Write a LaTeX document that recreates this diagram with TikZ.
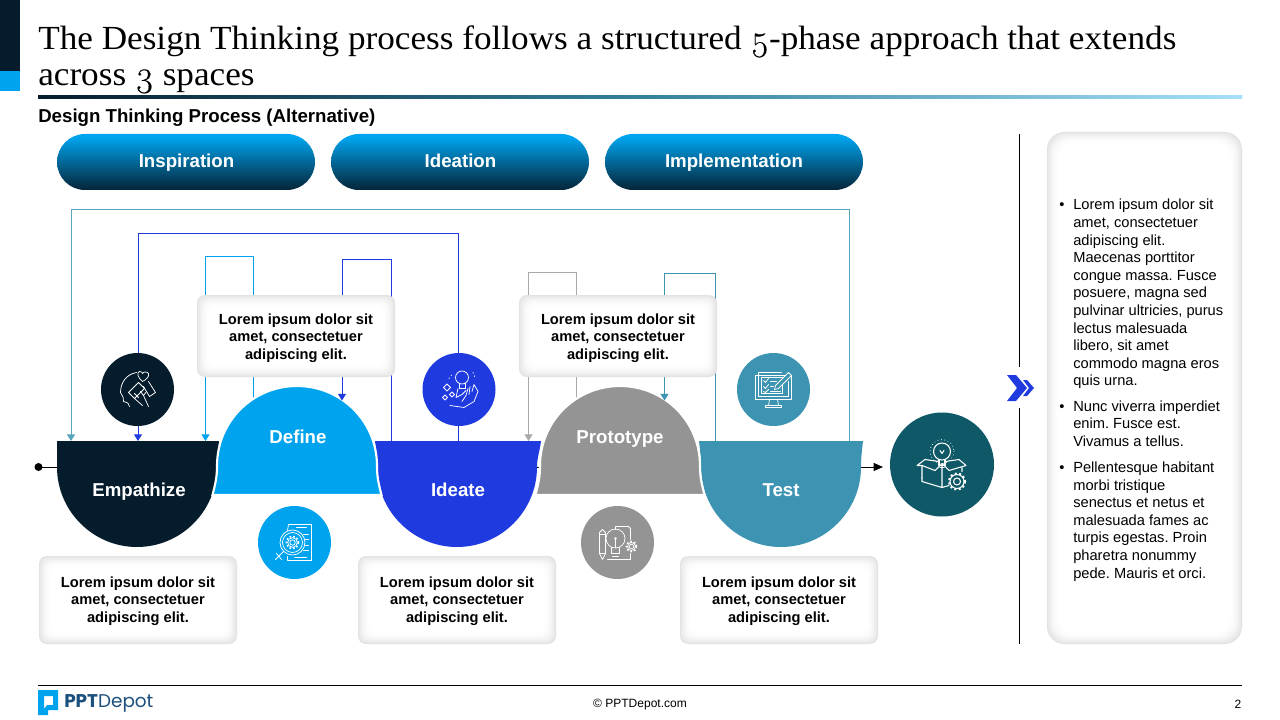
\documentclass[tikz,border=0pt]{standalone}
\usepackage{fontspec}
\setmainfont{Liberation Sans}
\newfontfamily\titlefont[FakeStretch=1.043]{Liberation Serif}
\newfontfamily\oldnum[Numbers=OldStyle,Scale=1.06,FakeBold=.25]{Latin Modern Roman}
\newfontfamily\logofont{Poppins}
\usetikzlibrary{arrows.meta,shapes.geometric}
\definecolor{cdark}{HTML}{051C2C}
\definecolor{csky}{HTML}{00A4EE}
\definecolor{cblue}{HTML}{1F3BE0}
\definecolor{cgray}{HTML}{949494}
\definecolor{cteal}{HTML}{3C93B2}
\definecolor{cdeep}{HTML}{0E5868}
\definecolor{clogo}{HTML}{1B4F7E}
\pgfdeclareverticalshading{pillshade}{100bp}{
  color(0bp)=(cdark); color(22bp)=(cdark); color(50bp)=(csky!55!cdark); color(72bp)=(csky); color(100bp)=(csky)}
\pgfdeclarehorizontalshading{ruleshade}{100bp}{
  color(0bp)=(cdark); color(25bp)=(cdark); color(50bp)=(cteal!85!cdark); color(75bp)=(csky!35!white); color(100bp)=(csky!22!white)}
\tikzset{
  pill/.style={rounded corners=21pt,shading=pillshade},
  pilltext/.style={text=white,font=\fontsize{14}{16}\selectfont\bfseries,inner sep=0pt,anchor=base},
  shapetext/.style={text=white,font=\fontsize{14}{16}\selectfont\bfseries,inner sep=0pt,anchor=base},
  lorem/.style={align=center,inner sep=0pt,font=\fontsize{11}{13.1}\selectfont\bfseries},
  side/.style={align=left,anchor=north west,inner sep=0pt,font=\fontsize{11}{13.2}\selectfont\frenchspacing},
  bullet/.style={anchor=base west,inner sep=0pt,font=\fontsize{11}{13.2}\selectfont},
  link/.style={line width=.75pt},
  tip/.style={-{Triangle[width=6pt,length=5pt]}},
  icon/.style={draw=white,line width=.55pt,line join=round,line cap=round},
  dome/.style={draw=white,line width=1.6pt},
}
\newcommand\softbox[5][6pt]{%
  \foreach \i in {0,...,12}{%
    \pgfmathsetmacro\cc{11*(1-\i/12)*(1-\i/12)}
    \fill[black!\cc!white,rounded corners=#1] (#2+\i,#3+\i) rectangle (#4-\i,#5-\i);
  }}
\newcommand\bowl[3]{%
  \fill[#2] (#1-82,441) -- (#1+#3,441) .. controls (#1+#3-1,450) and (#1+80,458) .. (#1+80,467)
    .. controls (#1+80,511) and (#1+44,547) .. (#1,547)
    .. controls (#1-44,547) and (#1-80,511) .. (#1-80,467)
    .. controls (#1-80,458) and (#1-81,450) .. cycle;}
\newcommand\domeshape[2]{%
  \fill[#2,dome] (#1-84.5,495) .. controls (#1-82,485) and (#1-80,478) .. (#1-80,466)
    .. controls (#1-80,421) and (#1-44,386) .. (#1,386)
    .. controls (#1+44,386) and (#1+80,421) .. (#1+80,466)
    .. controls (#1+80,478) and (#1+82,485) .. (#1+84.5,495) -- cycle;}
\newcommand\gearicon[3]{%
  \draw[icon] (#1,#2) circle (#3*.45);
  \draw[icon] (#1,#2) circle (#3*.8);
  \draw[draw=white,line width=1.3pt,dash pattern=on 1.2pt off 1.5pt] (#1,#2) circle (#3);}
\begin{document}
\begin{tikzpicture}[x=.75pt,y=-.75pt]
\useasboundingbox (0,0) rectangle (1280,720);
\fill[white] (0,0) rectangle (1280,720);
% header
\fill[cdark] (0,0) rectangle (20,71);
\fill[csky] (0,71) rectangle (20,91);
\node[anchor=base west,inner sep=0pt,font=\titlefont\fontsize{25.3}{27}\selectfont] (title) at (38,50)
 {The Design Thinking process follows a structured {\oldnum 5}-phase approach that extends};
\node[anchor=base west,inner sep=0pt,font=\titlefont\fontsize{25.3}{27}\selectfont] (title2) at (38,86) {across {\oldnum 3} spaces};
\shade[shading=ruleshade] (38,95.5) rectangle (1242,99);
\node[anchor=base west,inner sep=0pt,font=\fontsize{14}{16}\selectfont\bfseries] (sub) at (38,123) {Design Thinking Process (Alternative)};
% pills
\shade[pill] (57,134) rectangle (315,190);
\shade[pill] (331,134) rectangle (589,190);
\shade[pill] (605,134) rectangle (863,190);
\node[pilltext] (p1) at (186.5,168) {Inspiration};
\node[pilltext] (p2) at (460.5,168) {Ideation};
\node[pilltext] (p3) at (734,168) {Implementation};
% coordinates
\coordinate (start) at (38.5,467);
\coordinate (end) at (883,467);
\foreach \n/\x/\y in {a1/849/441,a2/849/209.5,a3/71/209.5,a4/71/441,
  b1/458/441,b2/458/233.5,b3/138/233.5,b4/138/441,
  c1/253.5/420,c2/253.5/256.5,c3/205.5/256.5,c4/205.5/441,
  d1/391/441,d2/391/259,d3/342/259,d4/342/400.5,
  e1/576/420,e2/576/272,e3/528.5/272,e4/528.5/441,
  f1/715.5/441,f2/715.5/273,f3/664.5/273,f4/664.5/400.5}{\coordinate (\n) at (\x,\y);}
% main line
\draw[line width=.75pt,-{Triangle[width=6pt,length=7pt]}] (start) -- (end);
\fill[black] (start) circle (4);
% connectors
\draw[link,cteal!85!white,tip] (a1) -- (a2) -- (a3) -- (a4);
\draw[link,cblue,tip] (b1) -- (b2) -- (b3) -- (b4);
\draw[link,csky,tip] (c1) -- (c2) -- (c3) -- (c4);
\draw[link,cgray!80!white,tip] (e1) -- (e2) -- (e3) -- (e4);
% bowls
\fill[cdark] (57,441) -- (219,441) .. controls (218,450) and (217,458) .. (217,467)
    .. controls (217,511) and (181,547) .. (137,547)
    .. controls (93,547) and (57,511) .. (57,467) -- cycle;
\bowl{457}{cblue}{84}
\bowl{781}{cteal}{82}
% domes
\domeshape{297}{csky}
\domeshape{620}{cgray}
\draw[link,cblue,tip] (d1) -- (d2) -- (d3) -- (d4);
\draw[link,cteal,tip] (f1) -- (f2) -- (f3) -- (f4);
\node[shapetext] (n1) at (139,496) {Empathize};
\node[shapetext] (n2) at (298,443) {Define};
\node[shapetext] (n3) at (458,496) {Ideate};
\node[shapetext] (n4) at (620,443) {Prototype};
\node[shapetext] (n5) at (781,496) {Test};
% text boxes
\softbox{197}{295}{395}{377}
\softbox{519}{295}{717}{377}
\softbox{39}{556}{237}{644}
\softbox{358}{556}{556}{644}
\softbox{680}{556}{878}{644}
\node[lorem] (t1) at (296,338) {Lorem ipsum dolor sit\\amet, consectetuer\\adipiscing elit.};
\node[lorem] (t2) at (618,338) {Lorem ipsum dolor sit\\amet, consectetuer\\adipiscing elit.};
\node[lorem] (t3) at (138,601) {Lorem ipsum dolor sit\\amet, consectetuer\\adipiscing elit.};
\node[lorem] (t4) at (457,601) {Lorem ipsum dolor sit\\amet, consectetuer\\adipiscing elit.};
\node[lorem] (t5) at (779,601) {Lorem ipsum dolor sit\\amet, consectetuer\\adipiscing elit.};
% circles
\fill[cdark] (137.5,389.5) circle (36.5);
\fill[cblue] (459,389.5) circle (36.5);
\fill[cteal] (773.5,389.5) circle (36.5);
\fill[csky] (294.5,542.5) circle (36.5);
\fill[cgray] (617.5,542.5) circle (36.5);
\fill[cdeep] (942,464.5) circle (52);
% icon 1: head, heart, handshake
\begin{scope}[shift={(137.5,389.5)}]
 \draw[icon] (-8,17) .. controls (-8,14) and (-10,13) .. (-14,12) .. controls (-13,9) and (-15,7) .. (-17,3)
   .. controls (-17,-6) and (-12,-15) .. (-1,-17);
 \draw[icon] (5,-8) .. controls (0,-12) and (-1,-17) .. (2,-18) .. controls (4,-18) and (5,-17) .. (5,-16)
   .. controls (6,-18) and (10,-18) .. (11,-16) .. controls (12,-13) and (9,-10) .. (5,-8) -- cycle;
 \draw[icon] (-9,3) -- (1,-7) -- (7,-1) -- (-3,9) -- cycle;
 \draw[icon] (11,-8) -- (18,3) -- (12,7) -- (6,-3);
 \draw[icon] (-3,9) -- (5,16) (3,2) -- (6,6) -- (9,2) (6,6) -- (11,17) (-3,4) -- (1,8);
\end{scope}
% icon 2: bulb in hand
\begin{scope}[shift={(459,389.5)}]
 \draw[icon] (3,-12) circle (6.5);
 \draw[icon] (0,-6) -- (0,-1) -- (6,-1) -- (6,-6);
 \draw[icon] (-1,-1) -- (-3,8) -- (3,5) -- (7,1);
 \draw[icon] (-9,16) -- (5,18) -- (15,12) -- (19,2) -- (15,-5) -- (13,2);
 \draw[icon] (11,-3) -- (10,5) (9,-1) -- (7,6) -- (3,12);
 \foreach \px/\py/\pr in {-12/-2/3.5,-7/5/2.5,-14/8/2.5}{
   \draw[icon] (\px-\pr,\py) -- (\px,\py-\pr) -- (\px+\pr,\py) -- (\px,\py+\pr) -- cycle;}
 \draw[icon,dash pattern=on .6pt off 2pt] (-10,-11) -- (-7,-15) (14,-17) -- (16,-12);
\end{scope}
% icon 3: monitor
\begin{scope}[shift={(773.5,389.5)}]
 \draw[icon] (-18,-14) rectangle (18,10);
 \draw[icon] (-15,-17) -- (8,-17) (-15,-17) -- (-15,7) -- (15,7) -- (15,-8);
 \draw[icon] (-12,-12) rectangle (9,4);
 \draw[icon] (-4,10) -- (-5,16) -- (5,16) -- (4,10) (-8,18) -- (8,18) -- (8,16) -- (-8,16) -- cycle;
 \fill[cteal] (2,-4) -- (15,-17) -- (18,-14) -- (5,-1) -- (1,0) -- cycle;
 \draw[icon] (2,-4) -- (15,-17) -- (18,-14) -- (5,-1) -- (1,0) -- cycle;
 \draw[icon] (-10,-9) -- (-8,-7) -- (-5,-11) (-10,-3) -- (-8,-1) -- (-5,-5) (-10,2) -- (-8,3) -- (-5,0);
 \draw[icon] (-3,-8) -- (3,-8) (-3,-3) -- (0,-3) (-3,2) -- (7,2);
\end{scope}
% icon 4: document and target
\begin{scope}[shift={(294.5,542.5)}]
 \draw[icon] (2,-18) -- (17,-18) -- (17,18) -- (-7,18) -- (-7,14);
 \draw[icon] (2,-18) -- (-6,-18) -- (-7,-12);
 \draw[icon] (2,-15) -- (12,-15) (9,-8) -- (14,-8) (11,-3) -- (14,-3) (11,3) -- (14,3) (9,8) -- (14,8) (0,15) -- (12,15);
 \draw[icon] (-2,0) circle (12.5);
 \draw[icon] (-2,0) circle (10);
 \gearicon{-2}{0}{6}
 \draw[icon] (-11,9) -- (-16,14) (-18,11) -- (-13,17) (-16,14) -- (-19,17);
\end{scope}
% icon 5: pencil, bulb, gear
\begin{scope}[shift={(617.5,542.5)}]
 \draw[icon] (-18,-10) -- (-15,-13) -- (-12,-10) -- (-12,11) -- (-15,17) -- (-18,11) -- cycle (-18,-8) -- (-12,-8) (-18,11) -- (-12,11);
 \draw[icon] (-2,-4) circle (9.5);
 \draw[icon] (-6,5) -- (-6,11) -- (2,11) -- (2,5) (-5,14) -- (1,14) (-2,-4) -- (-2,5);
 \fill[white] (-2,-4) circle (1.3);
 \draw[icon] (-2,-13) -- (-2,-16) -- (11,-16) -- (13,-14) -- (13,-3) (13,11) -- (13,17) -- (-10,17);
 \gearicon{14}{4}{5}
\end{scope}
% icon 6: box with bulb and gear
\begin{scope}[shift={(942,464.5)}]
 \draw[icon,line width=.8pt] (0,-13) circle (8.5);
 \draw[icon,line width=.8pt] (-3,-5) -- (-3,1) -- (3,1) -- (3,-5) (-2,3) -- (2,3);
 \draw[icon,line width=.8pt] (-20,13) -- (-20,1) (-20,1) -- (-25,1) -- (-17,-5) -- (-3,-3) (3,-3) -- (17,-5) -- (24,1) -- (7,6) -- (0,-1) -- (-7,6) -- (-20,1);
 \draw[icon,line width=.8pt] (-20,13) -- (-20,17) -- (0,23) -- (7,21) (0,-1) -- (0,23) (20,3) -- (20,7);
 \draw[icon,line width=.7pt,dash pattern=on .1pt off 2.5pt] (0,-13) circle (12);
 \draw[icon,line width=.8pt] (-2,-14) -- (0,-11) -- (2,-14);
 \draw[icon,line width=.8pt] (15,17) circle (3.5);
 \draw[icon,line width=.8pt] (15,17) circle (7);
 \draw[draw=white,line width=1.6pt,dash pattern=on 1.5pt off 1.8pt] (15,17) circle (8);
\end{scope}
% divider and chevrons
\coordinate (v1) at (1019.5,134);
\coordinate (v2) at (1019.5,367);
\coordinate (v3) at (1019.5,408);
\coordinate (v4) at (1019.5,644);
\draw[line width=.75pt] (v1) -- (v2);
\draw[line width=.75pt] (v3) -- (v4);
\fill[cblue] (1007,375) -- (1016,375) -- (1027,388) -- (1016,401) -- (1007,401) -- (1017,388) -- cycle;
\fill[cblue] (1023,380) -- (1027,380) -- (1034,388) -- (1027,396) -- (1023,396) -- (1029,388) -- cycle;
% right panel
\softbox[13pt]{1047}{132}{1242}{644}
\node[side] (s1) at (1073,199) {Lorem ipsum dolor sit\\amet, consectetuer\\adipiscing elit.\\Maecenas porttitor\\congue massa. Fusce\\posuere, magna sed\\pulvinar ultricies, purus\\lectus malesuada\\libero, sit amet\\commodo magna eros\\quis urna.};
\node[side] (s2) at (1073,400.5) {Nunc viverra imperdiet\\enim. Fusce est.\\Vivamus a tellus.};
\node[side] (s3) at (1073,461.5) {Pellentesque habitant\\morbi tristique\\senectus et netus et\\malesuada fames ac\\turpis egestas. Proin\\pharetra nonummy\\pede. Mauris et orci.};
\node[bullet] (b1n) at (1059,209.5) {•};
\node[bullet] (b2n) at (1059,411.5) {•};
\node[bullet] (b3n) at (1059,472.5) {•};
% footer
\coordinate (f1l) at (38,685.5);
\coordinate (f1r) at (1242,685.5);
\draw[line width=.75pt] (f1l) -- (f1r);
\fill[csky,even odd rule] (38,690) -- (58,690) -- (58,710) -- (48,710) -- (48,715) -- (38,715) -- cycle
  (44,696) -- (44,709) -- (47,705) -- (53,705) -- (53,696) -- cycle;
\node[anchor=base west,inner sep=0pt,text=clogo,font=\logofont\fontsize{13.8}{15}\selectfont] (logo) at (64,707.5) {\textbf{PPT}Depot};
\node[inner sep=0pt,font=\fontsize{9}{11}\selectfont] (copy) at (640,704.5) {© PPTDepot.com};
\node[inner sep=0pt,font=\fontsize{9}{11}\selectfont] (page) at (1238,704) {2};
\end{tikzpicture}
\end{document}
